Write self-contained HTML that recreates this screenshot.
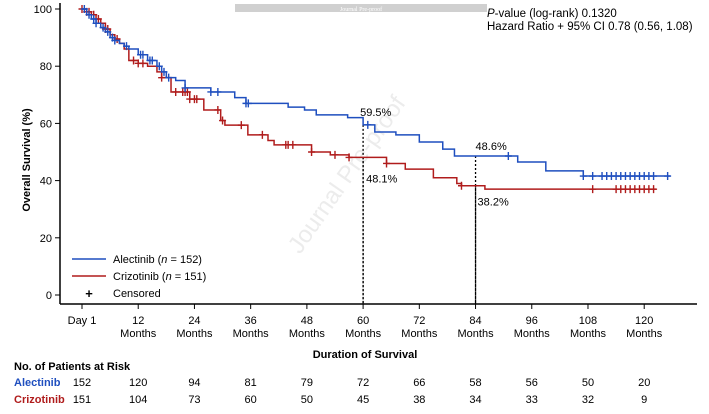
<!DOCTYPE html>
<html><head><meta charset="utf-8"><style>
body{margin:0;background:#fff;}
svg{display:block;font-family:"Liberation Sans",sans-serif;}
</style></head><body>
<svg id="chart" width="709" height="414" viewBox="0 0 709 414">
<rect x="235" y="4" width="252" height="8" fill="#d0d0d0"/>
<text x="361" y="11" font-size="6" fill="#fff" text-anchor="middle" font-family="Liberation Serif,serif">Journal Pre-proof</text>
<text x="0" y="0" font-size="24" fill="#ececec" transform="translate(300,255) rotate(-55)">Journal Pre-proof</text>
<g id="axes"></g>
<g id="series"></g>
<text x="487" y="17" font-size="11.5"><tspan font-style="italic">P</tspan>-value (log-rank) 0.1320</text>
<text x="487" y="30" font-size="11.5">Hazard Ratio + 95% CI 0.78 (0.56, 1.08)</text>
<g>
<line x1="72" y1="259" x2="106" y2="259" stroke="#1f4fbf" stroke-width="1.5"/>
<text x="113" y="263" font-size="11">Alectinib (<tspan font-style="italic">n</tspan> = 152)</text>
<line x1="72" y1="276" x2="106" y2="276" stroke="#b01c1c" stroke-width="1.5"/>
<text x="113" y="280" font-size="11">Crizotinib (<tspan font-style="italic">n</tspan> = 151)</text>
<text x="89" y="298" font-size="13" font-weight="bold" text-anchor="middle">+</text>
<text x="113" y="297" font-size="11">Censored</text>
</g>
<text x="30" y="160" font-size="11" font-weight="bold" text-anchor="middle" transform="rotate(-90 30 160)">Overall Survival (%)</text>
<text x="365" y="358" font-size="11" font-weight="bold" text-anchor="middle">Duration of Survival</text>
<text x="14" y="370" font-size="11" font-weight="bold">No. of Patients at Risk</text>
<text x="14" y="386" font-size="11" font-weight="bold" fill="#1f4fbf">Alectinib</text>
<text x="14" y="403" font-size="11" font-weight="bold" fill="#b01c1c">Crizotinib</text>
<g id="risk"></g>
</svg>
<script>
const tickMonths=[0,12,24,36,48,60,72,84,96,108,120];
const tickLabels=["Day 1","12","24","36","48","60","72","84","96","108","120"];
const yTicks=[0,20,40,60,80,100];
const riskAlectinib=[152,120,94,81,79,72,66,58,56,50,20];
const riskCrizotinib=[151,104,73,60,50,45,38,34,33,32,9];
const alecT=[0,1,2,3,4,5,6,7,8,9,10,12,14,16,17,18,20,22,27.5,32.6,35,44,47.5,50,56.7,60,62.5,67,72,77,79.5,93,99,107,125.6];
const alecS=[100,98,96.5,95,93.5,92,90,89,88,87,86,84,82,80,78,76,75,72.4,71,69,67,65.7,64.7,63,62,59.5,57,56,53.5,51,48.6,46.5,43.4,41.6,41.6];
const crizT=[0,1,2,3,4,5,6,7,8,9,10,12,14,16,17,19,23,26,29.6,30.5,35.4,39.7,41,49,53,57,65,69,75,80,81,86,122.5];
const crizS=[100,99,98,96.5,95,93,91,89.5,88,86,82,81,80,78,76,71,68.5,64.7,61,59.4,56,54,52.5,50,49,48.1,46,44,41,39,38.2,37,37];
const alecCensor=[0.5,1.5,2.5,3,4.5,5.5,6.5,7,9.5,12.5,13,14.5,15,16.5,17.5,18.5,22,27.5,29,35,35.5,61,91,107,109,111,112,113,114,115,116,117,118,119,120,121,122,125];
const crizCensor=[0,1,1.5,2.5,3.5,5,5.5,7.5,11,12,13,17,20,21.5,22,22.5,23,24,24.5,29,30,34,38.5,43.5,44,45,49,54,57,65,81,109,114,115,116,117,118,119,120,121,122];
const ann=[{t:60,s:59.5,label:"59.5%",dx:-3,dy:-9},{t:60,s:48.1,label:"48.1%",dx:3,dy:25},{t:84,s:48.6,label:"48.6%",dx:0,dy:-6},{t:84,s:38.2,label:"38.2%",dx:2,dy:20}];

const x=m=>82+m*(595/127);
const y=s=>295-s*2.86;
const NS="http://www.w3.org/2000/svg";
function mk(tag,attrs,parent,text){const e=document.createElementNS(NS,tag);for(const k in attrs)e.setAttribute(k,attrs[k]);if(text!==undefined)e.textContent=text;parent.appendChild(e);return e;}
const axes=document.getElementById('axes');
let e=mk('line',{x1:60,y1:3,x2:60,y2:304,stroke:'#000','stroke-width':1.5},axes);


e=mk('line',{x1:60,y1:304,x2:697,y2:304,stroke:'#000','stroke-width':1.5},axes);


yTicks.forEach(v=>{
  mk('line',{x1:55,y1:y(v),x2:60,y2:y(v),stroke:'#000'},axes);
  e=mk('text',{x:52,y:y(v)+4,'font-size':11,'text-anchor':'end'},axes,String(v));
  
  
});
tickMonths.forEach((m,i)=>{
  mk('line',{x1:x(m),y1:304,x2:x(m),y2:309,stroke:'#000'},axes);
  e=mk('text',{x:x(m),y:324,'font-size':11,'text-anchor':'middle'},axes,tickLabels[i]);
  
  
  if(i>0){e=mk('text',{x:x(m),y:337,'font-size':11,'text-anchor':'middle'},axes,'Months');
  
  }
});
const ser=document.getElementById('series');
ann.forEach(a=>{
  e=mk('line',{x1:x(a.t),y1:y(a.s),x2:x(a.t),y2:304,stroke:'#000','stroke-width':1.3,'stroke-dasharray':'2,2'},ser);
  
  
  e=mk('text',{x:x(a.t)+a.dx,y:y(a.s)+a.dy,'font-size':11},ser,a.label);
  
  
});
function stepAt(T,S,t){let v=S[0];for(let i=0;i<T.length;i++){if(T[i]<=t)v=S[i];}return v;}
function draw(T,S,C,col,name){
  let d='M'+x(T[0])+','+y(S[0]);
  for(let i=1;i<T.length;i++){d+='H'+x(T[i])+'V'+y(S[i]);}
  e=mk('path',{d:d,fill:'none',stroke:col,'stroke-width':1.5},ser);
  
  
  C.forEach(t=>{const cx=x(t),cy=y(stepAt(T,S,t));
    e=mk('path',{d:`M${cx-3.5},${cy}H${cx+3.5}M${cx},${cy-4}V${cy+4}`,stroke:col,'stroke-width':1.4},ser);
    
    
  });
}
draw(crizT,crizS,crizCensor,'#b01c1c','crizotinib');
draw(alecT,alecS,alecCensor,'#1f4fbf','alectinib');
const risk=document.getElementById('risk');
tickMonths.forEach((m,i)=>{
  e=mk('text',{x:x(m),y:386,'font-size':11,'text-anchor':'middle'},risk,String(riskAlectinib[i]));
  
  
  e=mk('text',{x:x(m),y:403,'font-size':11,'text-anchor':'middle'},risk,String(riskCrizotinib[i]));
  
  
});
</script>
</body></html>
